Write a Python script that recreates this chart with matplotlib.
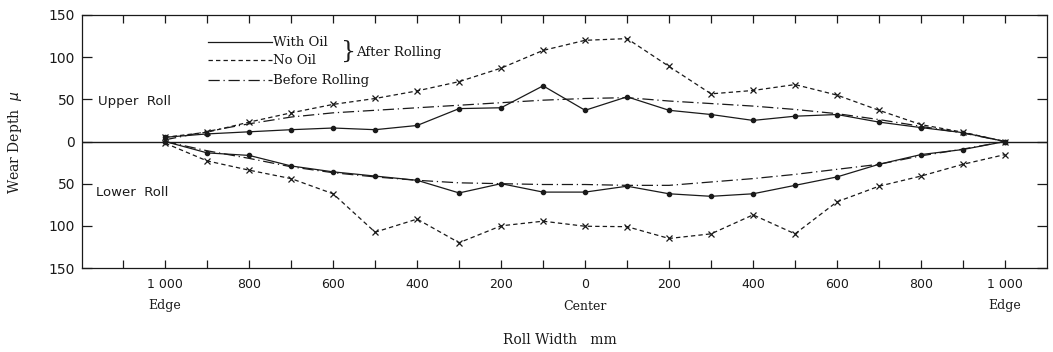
"""roll wear profile, upper and lower roll
"""
import numpy as np
import matplotlib.pyplot as plt
from matplotlib.transforms import blended_transform_factory

# roll width positions (mm), left edge -> center -> right edge
positions = np.arange(-1000, 1001, 100)

# upper roll wear depth (micron)
upper_with_oil = [5, 9, 11.5, 14, 16, 14, 19, 39, 40, 66, 37, 53, 37, 32, 25, 30, 32, 23, 16.5, 10.5, 0]
upper_no_oil = [5, 11, 23, 34, 44, 51, 60, 71, 87, 108, 120, 122, 89, 56.5, 60.5, 67.5, 55, 37, 20, 11, 0]
upper_before = [2, 12, 21, 29, 34, 37, 40, 43, 46, 49, 51, 52, 48, 45, 42, 38, 33, 26, 18, 10, 0]

# lower roll wear depth (micron), plotted downwards
lower_with_oil = [0, 13.5, 16.5, 29, 36, 41, 46, 61, 50, 60, 60, 53, 62, 65, 62, 52, 42, 27, 15.5, 9.5, 0]
lower_no_oil = [2, 23, 34, 44, 62, 107.5, 92, 120, 100, 94.5, 100.5, 101, 115, 109.5, 87, 109.5, 71.5, 53, 41, 27, 15.5]
lower_before = [0, 11, 20, 30, 37, 42, 46, 49, 50, 51, 51, 52, 52, 48, 44, 39, 33, 27, 17, 9, 0]

tick_pos = [-1000, -800, -600, -400, -200, 0, 200, 400, 600, 800, 1000]
tick_labels = ['1 000', '800', '600', '400', '200', '0', '200', '400', '600', '800', '1 000']
ytick_pos = [-150, -100, -50, 0, 50, 100, 150]
ytick_labels = ['150', '100', '50', '0', '50', '100', '150']

ink = '#1a1a1a'
serif = 'DejaVu Serif'
dash = (3.5, 2.5)
dashdot = (9, 3, 1, 3)

fig = plt.figure(figsize=(10.53, 3.52), dpi=100)
ax = fig.add_axes([82 / 1053, 1 - 268 / 352, 965 / 1053, 253 / 352])

# zero line
ax.axhline(0, color=ink, lw=1.0)

# upper roll
ax.plot(positions, upper_with_oil, '-', color=ink, lw=0.9, marker='o', ms=3)
ax.plot(positions, upper_no_oil, '--', color=ink, lw=0.9, marker='x', ms=4,
        mew=0.9, dashes=dash)
ax.plot(positions, upper_before, '-.', color=ink, lw=0.9, dashes=dashdot)

# lower roll
ax.plot(positions, -np.array(lower_with_oil), '-', color=ink, lw=0.9, marker='o', ms=3)
ax.plot(positions, -np.array(lower_no_oil), '--', color=ink, lw=0.9, marker='x', ms=4,
        mew=0.9, dashes=dash)
ax.plot(positions, -np.array(lower_before), '-.', color=ink, lw=0.9, dashes=dashdot)

ax.set_xlim(-1198, 1100)
ax.set_ylim(-150, 150)

# ticks inward on all sides
ax.set_xticks(np.arange(-1100, 1001, 100), minor=True)
ax.set_xticks(tick_pos)
ax.set_xticklabels(tick_labels)
ax.set_yticks(ytick_pos)
ax.set_yticklabels(ytick_labels)
ax.tick_params(axis='both', which='both', direction='in', top=True, right=True,
               color=ink, width=0.9)
ax.tick_params(axis='x', which='both', length=6, pad=7, labelsize=9, labelcolor=ink)
ax.tick_params(axis='y', which='both', length=7, pad=5, labelsize=10, labelcolor=ink)
for s in ax.spines.values():
    s.set_color(ink)
    s.set_linewidth(0.9)

# edge / center labels below the ticks
bt = blended_transform_factory(ax.transData, fig.transFigure)
ax.text(-1000, 1 - 306 / 352, 'Edge', transform=bt, ha='center', va='center',
        fontsize=9, family=serif, color=ink)
ax.text(0, 1 - 306 / 352, 'Center', transform=bt, ha='center', va='center',
        fontsize=9, family=serif, color=ink)
ax.text(1000, 1 - 306 / 352, 'Edge', transform=bt, ha='center', va='center',
        fontsize=9, family=serif, color=ink)

fig.text(560 / 1053, 1 - 340 / 352, 'Roll Width   mm', ha='center', va='center',
         fontsize=10, family=serif, color=ink)
fig.text(15 / 1053, 1 - 142 / 352, 'Wear Depth  $\\mu$', ha='center', va='center',
         rotation=90, fontsize=10, family=serif, color=ink)

# roll labels
ax.text(0.017, 0.658, 'Upper  Roll', transform=ax.transAxes, ha='left', va='center',
        fontsize=9.5, color=ink)
ax.text(0.015, 0.30, 'Lower  Roll', transform=ax.transAxes, ha='left', va='center',
        fontsize=9.5, color=ink)

# hand-drawn style legend
ta = ax.transAxes
ax.plot([0.131, 0.197], [0.893, 0.893], '-', color=ink, lw=0.9, transform=ta)
ax.plot([0.131, 0.197], [0.822, 0.822], '--', color=ink, lw=0.9, dashes=dash, transform=ta)
ax.plot([0.131, 0.197], [0.743, 0.743], '-.', color=ink, lw=0.9, dashes=dashdot,
        transform=ta)
ax.text(0.198, 0.893, 'With Oil', transform=ta, ha='left', va='center',
        fontsize=9.5, family=serif, color=ink)
ax.text(0.198, 0.822, 'No Oil', transform=ta, ha='left', va='center',
        fontsize=9.5, family=serif, color=ink)
ax.text(0.198, 0.743, 'Before Rolling', transform=ta, ha='left', va='center',
        fontsize=9.5, family=serif, color=ink)
ax.text(0.268, 0.858, '}', transform=ta, ha='left', va='center',
        fontsize=17, family=serif, color=ink)
ax.text(0.284, 0.852, 'After Rolling', transform=ta, ha='left', va='center',
        fontsize=9.5, family=serif, color=ink)

fig.savefig('out.png', dpi=100)
